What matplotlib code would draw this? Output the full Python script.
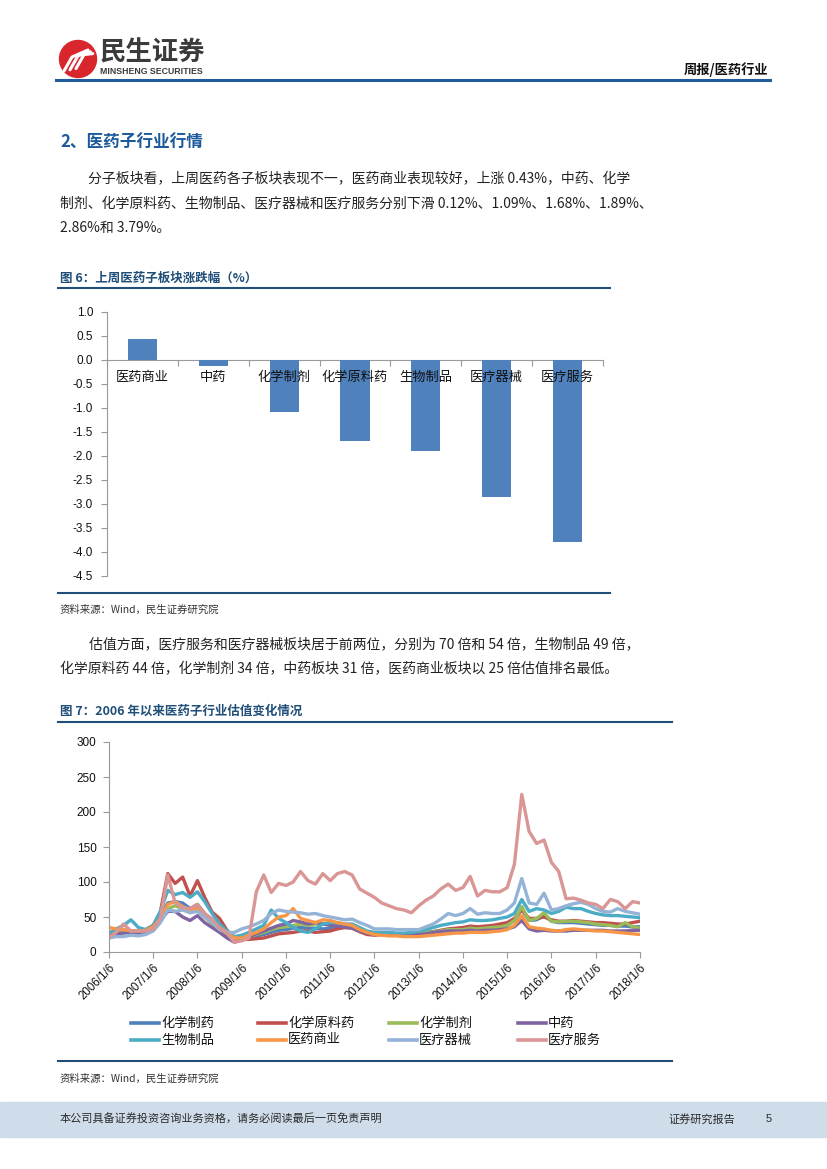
import matplotlib
matplotlib.use("Agg")
import matplotlib.pyplot as plt
import pandas as pd
from matplotlib.lines import Line2D
from matplotlib.patches import Circle, Rectangle
from matplotlib.ticker import FormatStrFormatter

plt.rcParams['font.family'] = ['Noto Sans CJK SC', 'DejaVu Sans']

# 图6 数据：上周医药子板块涨跌幅（%）
bar_cats = ["医药商业", "中药", "化学制剂", "化学原料药", "生物制品", "医疗器械", "医疗服务"]
bar_vals = [0.43, -0.12, -1.09, -1.68, -1.89, -2.86, -3.79]

# 图7 数据：2006 年以来医药子行业估值（PE），每两个月取一点
dates = [
    "2006-01-06", "2006-03-06", "2006-05-06", "2006-07-06", "2006-09-06", "2006-11-06",
    "2007-01-06", "2007-03-06", "2007-05-06", "2007-07-06", "2007-09-06", "2007-11-06",
    "2008-01-06", "2008-03-06", "2008-05-06", "2008-07-06", "2008-09-06", "2008-11-06",
    "2009-01-06", "2009-03-06", "2009-05-06", "2009-07-06", "2009-09-06", "2009-11-06",
    "2010-01-06", "2010-03-06", "2010-05-06", "2010-07-06", "2010-09-06", "2010-11-06",
    "2011-01-06", "2011-03-06", "2011-05-06", "2011-07-06", "2011-09-06", "2011-11-06",
    "2012-01-06", "2012-03-06", "2012-05-06", "2012-07-06", "2012-09-06", "2012-11-06",
    "2013-01-06", "2013-03-06", "2013-05-06", "2013-07-06", "2013-09-06", "2013-11-06",
    "2014-01-06", "2014-03-06", "2014-05-06", "2014-07-06", "2014-09-06", "2014-11-06",
    "2015-01-06", "2015-03-06", "2015-05-06", "2015-07-06", "2015-09-06", "2015-11-06",
    "2016-01-06", "2016-03-06", "2016-05-06", "2016-07-06", "2016-09-06", "2016-11-06",
    "2017-01-06", "2017-03-06", "2017-05-06", "2017-07-06", "2017-09-06", "2017-11-06",
    "2018-01-06",
]

pharm = [25, 28, 29, 29, 28, 30, 35, 52, 70, 72, 70, 62, 68, 55, 45, 35, 25, 17,
         17, 20, 23, 25, 28, 31, 32, 34, 35, 34, 34, 33, 34, 35, 35, 35, 30, 26,
         25, 26, 26, 26, 26, 26, 26, 28, 29, 30, 32, 32, 32, 34, 33, 34, 35, 36,
         38, 45, 62, 45, 46, 52, 44, 42, 42, 42, 41, 40, 39, 38, 38, 37, 37, 36, 36]
api = [26, 30, 31, 30, 30, 32, 38, 57, 112, 98, 107, 80, 102, 78, 57, 48, 31, 20,
       18, 18, 19, 20, 23, 26, 27, 28, 30, 30, 28, 29, 30, 33, 35, 34, 29, 25,
       24, 25, 25, 25, 25, 25, 25, 27, 29, 31, 33, 34, 35, 37, 36, 37, 38, 40,
       42, 48, 60, 48, 48, 50, 46, 44, 44, 45, 44, 43, 42, 42, 41, 40, 40, 42, 44]
prep = [25, 28, 28, 29, 28, 30, 34, 48, 62, 66, 62, 58, 62, 50, 40, 32, 24, 16,
        17, 22, 25, 28, 32, 35, 36, 38, 40, 38, 40, 40, 40, 40, 38, 37, 32, 28,
        25, 26, 26, 26, 26, 26, 27, 28, 29, 30, 32, 32, 32, 34, 33, 34, 35, 36,
        38, 45, 65, 45, 48, 56, 44, 43, 44, 44, 43, 42, 40, 39, 38, 36, 42, 36, 34]
tcm = [24, 26, 27, 28, 27, 28, 32, 45, 58, 58, 50, 45, 52, 42, 35, 28, 20, 14,
       18, 22, 26, 30, 34, 38, 40, 45, 43, 40, 42, 40, 38, 37, 36, 34, 30, 27,
       25, 25, 25, 24, 24, 24, 25, 26, 28, 29, 30, 30, 30, 31, 30, 31, 31, 32,
       33, 36, 45, 33, 30, 31, 30, 30, 30, 31, 31, 31, 31, 31, 30, 30, 30, 31, 31]
bio = [27, 33, 38, 46, 35, 32, 38, 58, 88, 82, 85, 78, 86, 72, 55, 40, 30, 22,
       24, 28, 33, 38, 60, 48, 42, 35, 30, 28, 33, 40, 42, 42, 40, 40, 35, 30,
       28, 28, 28, 27, 27, 28, 30, 32, 35, 38, 40, 42, 43, 46, 45, 45, 46, 48,
       50, 55, 75, 58, 62, 60, 55, 58, 64, 62, 62, 58, 55, 53, 52, 52, 51, 50, 49]
com = [35, 33, 32, 30, 30, 31, 36, 48, 68, 72, 65, 60, 62, 50, 42, 35, 28, 20,
       20, 24, 28, 33, 42, 50, 52, 62, 48, 45, 42, 46, 45, 42, 40, 38, 32, 28,
       25, 24, 23, 23, 22, 22, 22, 23, 24, 25, 26, 27, 27, 28, 28, 28, 29, 30,
       32, 38, 52, 36, 34, 33, 31, 30, 32, 33, 32, 31, 30, 30, 29, 28, 27, 26, 25]
dev = [20, 22, 22, 24, 23, 25, 30, 42, 60, 58, 60, 56, 58, 50, 42, 32, 28, 28,
       33, 36, 40, 45, 55, 60, 58, 57, 56, 54, 55, 52, 50, 48, 46, 47, 42, 38,
       33, 33, 33, 32, 32, 32, 32, 36, 40, 47, 55, 52, 55, 62, 54, 56, 55, 55,
       60, 70, 105, 70, 68, 84, 60, 62, 66, 69, 71, 68, 62, 58, 57, 62, 58, 56, 54]
svc = [21, 28, 40, 30, 30, 30, 33, 48, 110, 70, 63, 62, 68, 55, 47, 34, 27, 14,
       16, 20, 86, 110, 85, 98, 95, 100, 115, 102, 97, 112, 102, 112, 115, 110, 90, 84,
       78, 70, 66, 62, 60, 56, 66, 74, 80, 90, 97, 88, 92, 108, 80, 88, 86, 86,
       92, 125, 225, 172, 155, 160, 128, 115, 76, 77, 74, 70, 68, 62, 75, 72, 62, 72, 70]

series_names = ["化学制药", "化学原料药", "化学制剂", "中药", "生物制品", "医药商业", "医疗器械", "医疗服务"]
series_vals = [pharm, api, prep, tcm, bio, com, dev, svc]
series_colors = ["#4f81bd", "#c0504d", "#9bbb59", "#8064a2", "#4bacc6", "#f79646", "#95b3d7", "#d99694"]

year_ticks = ["2006/1/6", "2007/1/6", "2008/1/6", "2009/1/6", "2010/1/6", "2011/1/6", "2012/1/6",
              "2013/1/6", "2014/1/6", "2015/1/6", "2016/1/6", "2017/1/6", "2018/1/6"]

W, H = 827, 1169
BLUE = "#1f4e79"
TXT = "#222222"


def fx(x):
    return x / W


def fy(y):
    return 1 - y / H


fig = plt.figure(figsize=(8.27, 11.69), dpi=100)


def hline(x0, x1, y, color=BLUE, lw=1.5):
    fig.add_artist(Line2D([fx(x0), fx(x1)], [fy(y), fy(y)], transform=fig.transFigure,
                          color=color, lw=lw))


def put(x, y, s, **kw):
    kw.setdefault("va", "center")
    kw.setdefault("color", TXT)
    fig.text(fx(x), fy(y), s, **kw)


# ---- 页眉 ----
logo = fig.add_axes([fx(58), fy(79), 40 / W, 40 / H])
logo.set_xlim(0, 40)
logo.set_ylim(0, 40)
logo.axis("off")
logo.add_patch(Circle((20, 20), 18.5, color="#d9262c"))
for dx in (0, 6, 12):
    logo.plot([6 + dx, 14 + dx, 30 + dx * 0.4], [8 + dx * 0.2, 22 + dx * 0.2, 29 - dx * 0.3],
              color="white", lw=2.2, solid_capstyle="round")
put(100, 53, "民生证券", fontsize=19, fontweight="bold", color="#3b3b3b")
put(100, 71, "MINSHENG SECURITIES", fontsize=6.3, fontweight="bold", color="#3b3b3b",
    family=["Liberation Sans", "DejaVu Sans"])
put(768, 70, "周报/医药行业", fontsize=9.5, fontweight="bold", color="#111111", ha="right")
hline(56, 770, 80, color="#1f5c99", lw=2.2)

# ---- 正文 ----
put(60, 143, "2、医药子行业行情", fontsize=12, fontweight="bold", color="#1c5a9c")
put(88, 179, "分子板块看，上周医药各子板块表现不一，医药商业表现较好，上涨 0.43%，中药、化学", fontsize=10)
put(60, 204, "制剂、化学原料药、生物制品、医疗器械和医疗服务分别下滑 0.12%、1.09%、1.68%、1.89%、", fontsize=10)
put(60, 228, "2.86%和 3.79%。", fontsize=10)

put(60, 278, "图 6：上周医药子板块涨跌幅（%）", fontsize=9, fontweight="bold", color=BLUE)
hline(58, 610, 288)

# ---- 图6 柱状图 ----
ax1 = fig.add_axes([fx(107), fy(576), (603 - 107) / W, (576 - 312) / H])
ax1.bar(range(len(bar_cats)), bar_vals, width=0.41, color="#4f81bd", zorder=2)
ax1.set_xlim(-0.5, len(bar_cats) - 0.5)
ax1.set_ylim(-4.5, 1.0)
ax1.set_yticks([1.0, 0.5, 0.0, -0.5, -1.0, -1.5, -2.0, -2.5, -3.0, -3.5, -4.0, -4.5])
ax1.yaxis.set_major_formatter(FormatStrFormatter("%.1f"))
ax1.set_xticks([i - 0.5 for i in range(len(bar_cats) + 1)])
ax1.set_xticklabels([])
for s in ("top", "right"):
    ax1.spines[s].set_visible(False)
ax1.spines["bottom"].set_position(("data", 0))
ax1.spines["bottom"].set_zorder(1)
for s in ("left", "bottom"):
    ax1.spines[s].set_color("#9a9a9a")
ax1.tick_params(axis="both", direction="out", length=4, color="#9a9a9a")
ax1.tick_params(axis="y", labelsize=8.5, pad=6, labelcolor="#111111")
for lab in ax1.get_yticklabels():
    lab.set_family(["Liberation Sans", "DejaVu Sans"])
for i, c in enumerate(bar_cats):
    ax1.text(i, -0.36, c, ha="center", va="center", fontsize=9.5, color="#111111", zorder=3)

hline(58, 610, 593)
put(60, 610, "资料来源：Wind，民生证券研究院", fontsize=7.5, color="#333333")

put(89, 644, "估值方面，医疗服务和医疗器械板块居于前两位，分别为 70 倍和 54 倍，生物制品 49 倍，", fontsize=10)
put(60, 669, "化学原料药 44 倍，化学制剂 34 倍，中药板块 31 倍，医药商业板块以 25 倍估值排名最低。", fontsize=10)

put(60, 711, "图 7：2006 年以来医药子行业估值变化情况", fontsize=9, fontweight="bold", color=BLUE)
hline(58, 672, 722)

# ---- 图7 折线图 ----
ax2 = fig.add_axes([fx(109), fy(952), (640 - 109) / W, (952 - 742) / H])
xd = pd.to_datetime(dates)
for vals, col in zip(series_vals, series_colors):
    ax2.plot(xd, vals, color=col, lw=2.4, solid_joinstyle="round")
ax2.set_xlim(pd.Timestamp("2006-01-06"), pd.Timestamp("2018-01-06"))
ax2.set_ylim(0, 300)
ax2.set_yticks(range(0, 301, 50))
ax2.set_xticks(pd.to_datetime(year_ticks, format="%Y/%m/%d"))
ax2.set_xticklabels(year_ticks, rotation=45, ha="right", rotation_mode="anchor")
for s in ("top", "right"):
    ax2.spines[s].set_visible(False)
for s in ("left", "bottom"):
    ax2.spines[s].set_color("#9a9a9a")
ax2.tick_params(axis="both", direction="out", length=4, color="#9a9a9a", labelcolor="#111111")
ax2.tick_params(axis="y", labelsize=8.5, pad=5)
ax2.tick_params(axis="x", labelsize=8.3, pad=3)
for lab in ax2.get_xticklabels() + ax2.get_yticklabels():
    lab.set_family(["Liberation Sans", "DejaVu Sans"])

# 图例（两行四列）
col_x = [131, 258, 389, 518]
row_y = [1023, 1040]
for k, (name, col) in enumerate(zip(series_names, series_colors)):
    x0 = col_x[k % 4]
    y0 = row_y[k // 4]
    fig.add_artist(Line2D([fx(x0), fx(x0 + 28)], [fy(y0), fy(y0)], transform=fig.transFigure,
                          color=col, lw=2.6))
    put(x0 + 30, y0, name, fontsize=9.5, color="#111111")

hline(58, 672, 1061)
put(60, 1079, "资料来源：Wind，民生证券研究院", fontsize=7.5, color="#333333")

# ---- 页脚 ----
fig.add_artist(Rectangle((0, fy(1137)), 1, (1137 - 1102) / H, transform=fig.transFigure,
                         color="#cfdcea", zorder=0))
put(60, 1119, "本公司具备证券投资咨询业务资格，请务必阅读最后一页免责声明", fontsize=8, color="#2a2a2a")
put(668, 1119, "证券研究报告", fontsize=8, color="#2a2a2a")
put(766, 1119, "5", fontsize=8, color="#2a2a2a", family=["Liberation Sans", "DejaVu Sans"])

fig.savefig("out.png", dpi=100)
